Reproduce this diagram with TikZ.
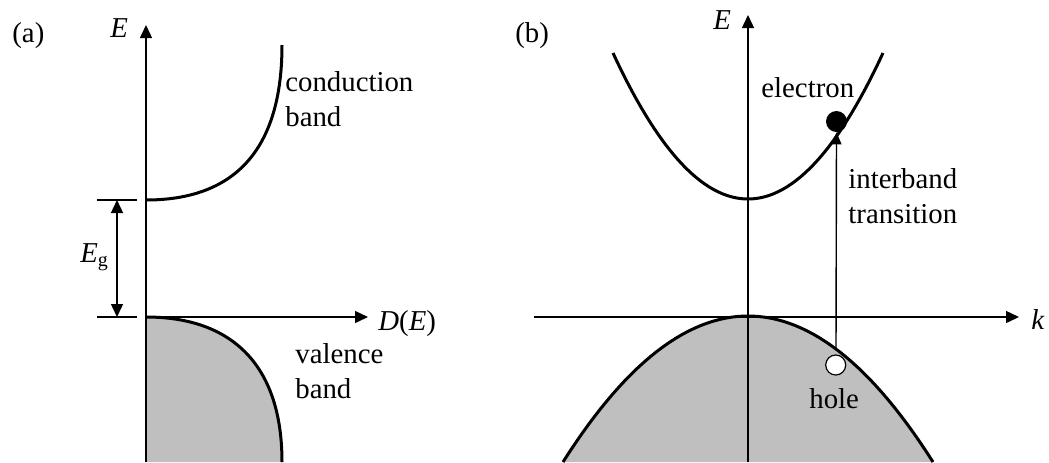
\documentclass[tikz,border=0pt]{standalone}
\usepackage{fontspec}
\setmainfont{Liberation Serif}
\usetikzlibrary{arrows.meta}

\begin{document}
\begin{tikzpicture}[x=0.5pt,y=-0.5pt,
  lbl/.style={anchor=base west, inner sep=0pt, align=left,
    font=\fontsize{14.4}{17.5}\selectfont},
  axis/.style={line width=0.7pt},
  band/.style={line width=1.5pt},
  arr/.style={-{Triangle[length=6.5pt,width=6pt]}},
  dot/.style={circle, inner sep=0pt, minimum size=10.5pt}]
\useasboundingbox (0,0) rectangle (1049,462);

% Panel (a): density of states
\coordinate (abot) at (146,462);
\coordinate (atop) at (146,25);
\coordinate (aorg) at (146,317);
\coordinate (aright) at (368,317);
\coordinate (cbot) at (146,200);

% Fill the valence band
\fill[gray!50] (aorg) .. controls (232,317) and (282,365) .. (282,462) -- (abot) -- cycle;

% Axes
\draw[axis,arr] (abot) -- (atop);
\draw[axis,arr] (aorg) -- (aright);

% Band edges
\draw[band] (cbot) .. controls (220,200) and (282,165) .. (282,45);
\draw[band] (aorg) .. controls (232,317) and (282,365) .. (282,462);

% Gap
\coordinate (g1l) at (97,200);  \coordinate (g1r) at (137,200);
\coordinate (g2l) at (97,317);  \coordinate (g2r) at (137,317);
\coordinate (gtop) at (117,200); \coordinate (gbot) at (117,317);
\draw[axis] (g1l) -- (g1r);
\draw[axis] (g2l) -- (g2r);
\draw[axis,{Triangle[length=6.5pt,width=6pt]}-{Triangle[length=6.5pt,width=6pt]}] (gtop) -- (gbot);

\node[lbl] (pa) at (12,42) {(a)};
\node[lbl] (lEa) at (110,37) {\textit{E}};
\node[lbl] (lDE) at (378,330) {\textit{D}(\textit{E})};
\node[lbl] (lEg) at (80,262) {\textit{E}\textsubscript{g}};
\node[lbl] (lcb) at (285,126) {conduction\\band};
\node[lbl] (lvb) at (295,398) {valence\\band};

% Panel (b): band structure
\coordinate (bbot) at (748,462);
\coordinate (btop) at (748,15);
\coordinate (bleft) at (534,317);
\coordinate (bright) at (1019,317);

% Fill the valence band
\fill[gray!50] plot[domain=-185:185, samples=60] ({748+\x},{316+146*(\x/185)^2}) -- cycle;

% Axes
\draw[axis,arr] (bbot) -- (btop);
\draw[axis,arr] (bleft) -- (bright);

% Bands
\draw[band] plot[domain=-135:135, samples=60] ({748+\x},{199-146*(\x/135)^2});
\draw[band] plot[domain=-185:185, samples=60] ({748+\x},{316+146*(\x/185)^2});

% Transition
\node[dot, fill=black] (elec) at (836.5,121.5) {};
\node[dot, draw, fill=white, line width=0.6pt, minimum size=10pt] (hole) at (835.7,365) {};
\coordinate (vk) at (836,349);
\draw[axis,-{Triangle[length=6pt,width=5pt]}] (vk) -- (elec.south);

\node[lbl] (pb) at (515,42) {(b)};
\node[lbl] (lEb) at (713,29) {\textit{E}};
\node[lbl] (lk) at (1031,329) {\textit{k}};
\node[lbl] (lel) at (761,97) {electron};
\node[lbl] (ltr) at (848,223) {interband\\transition};
\node[lbl] (lho) at (809,408) {hole};

\end{tikzpicture}
\end{document}
